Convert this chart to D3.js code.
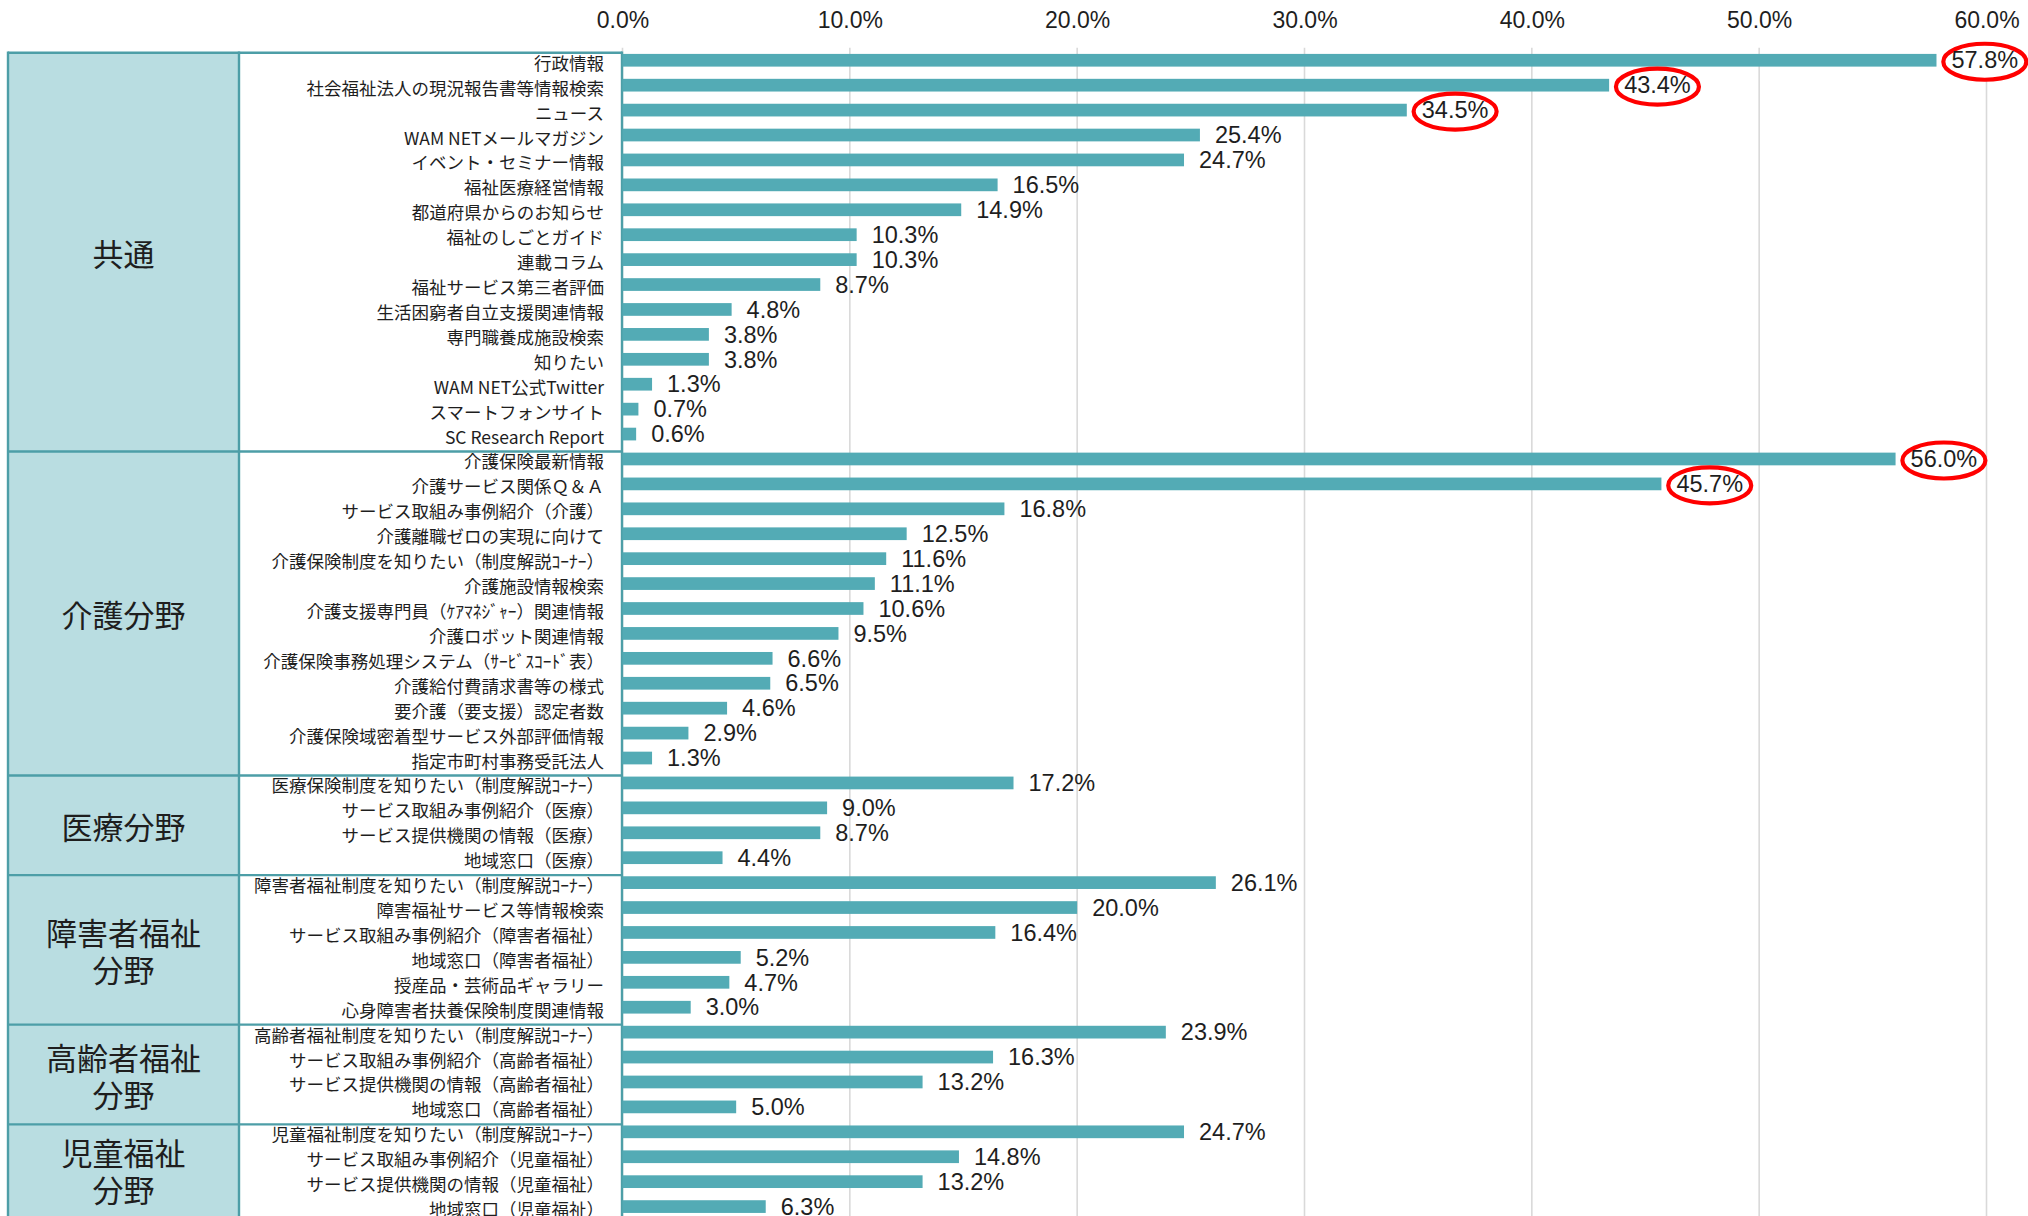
<!DOCTYPE html>
<html>
<head>
<meta charset="utf-8">
<script src="https://cdn.jsdelivr.net/npm/d3@7"></script>
<style>
  html, body { margin: 0; padding: 0; background: #ffffff; }
  svg { display: block; }
</style>
</head>
<body>
<svg id="chart" width="2028" height="1216"></svg>
<script>
// ---------- DATA ----------
const groupNames = ["共通", "介護分野", "医療分野", "障害者福祉\n分野", "高齢者福祉\n分野", "児童福祉\n分野"];
const groupSizes = [16, 13, 4, 6, 4, 4];

const categories = [
  // 共通
  "行政情報", "社会福祉法人の現況報告書等情報検索", "ニュース", "WAM NETメールマガジン",
  "イベント・セミナー情報", "福祉医療経営情報", "都道府県からのお知らせ", "福祉のしごとガイド",
  "連載コラム", "福祉サービス第三者評価", "生活困窮者自立支援関連情報", "専門職養成施設検索",
  "知りたい", "WAM NET公式Twitter", "スマートフォンサイト", "SC Research Report",
  // 介護分野
  "介護保険最新情報", "介護サービス関係Ｑ＆Ａ", "サービス取組み事例紹介（介護）", "介護離職ゼロの実現に向けて",
  "介護保険制度を知りたい（制度解説ｺｰﾅｰ）", "介護施設情報検索", "介護支援専門員（ｹｱﾏﾈｼﾞｬｰ）関連情報",
  "介護ロボット関連情報", "介護保険事務処理システム（ｻｰﾋﾞｽｺｰﾄﾞ表）", "介護給付費請求書等の様式",
  "要介護（要支援）認定者数", "介護保険域密着型サービス外部評価情報", "指定市町村事務受託法人",
  // 医療分野
  "医療保険制度を知りたい（制度解説ｺｰﾅｰ）", "サービス取組み事例紹介（医療）", "サービス提供機関の情報（医療）", "地域窓口（医療）",
  // 障害者福祉分野
  "障害者福祉制度を知りたい（制度解説ｺｰﾅｰ）", "障害福祉サービス等情報検索", "サービス取組み事例紹介（障害者福祉）",
  "地域窓口（障害者福祉）", "授産品・芸術品ギャラリー", "心身障害者扶養保険制度関連情報",
  // 高齢者福祉分野
  "高齢者福祉制度を知りたい（制度解説ｺｰﾅｰ）", "サービス取組み事例紹介（高齢者福祉）", "サービス提供機関の情報（高齢者福祉）", "地域窓口（高齢者福祉）",
  // 児童福祉分野
  "児童福祉制度を知りたい（制度解説ｺｰﾅｰ）", "サービス取組み事例紹介（児童福祉）", "サービス提供機関の情報（児童福祉）", "地域窓口（児童福祉）"
];

const values = [
  57.8, 43.4, 34.5, 25.4, 24.7, 16.5, 14.9, 10.3, 10.3, 8.7, 4.8, 3.8, 3.8, 1.3, 0.7, 0.6,
  56.0, 45.7, 16.8, 12.5, 11.6, 11.1, 10.6, 9.5, 6.6, 6.5, 4.6, 2.9, 1.3,
  17.2, 9.0, 8.7, 4.4,
  26.1, 20.0, 16.4, 5.2, 4.7, 3.0,
  23.9, 16.3, 13.2, 5.0,
  24.7, 14.8, 13.2, 6.3
];

const highlighted = ["行政情報", "社会福祉法人の現況報告書等情報検索", "ニュース", "介護保険最新情報", "介護サービス関係Ｑ＆Ａ"];

const xTicks = [0, 10, 20, 30, 40, 50, 60];

// ---------- LAYOUT ----------
const W = 2028, H = 1216;
const tableLeft = 8, catRight = 239, labelRight = 622;
const rowTop = 47.8, rowStep = 24.92;

const svg = d3.select("#chart");

const x = d3.scaleLinear().domain([0, 60]).range([622.5, 1986.5]);
const y = d3.scaleBand()
  .domain(d3.range(categories.length))
  .range([rowTop, rowTop + rowStep * categories.length])
  .paddingInner(0.49)
  .paddingOuter(0.245);
const bw = y.bandwidth();
const step = y.step();
const rowCenter = i => y(i) + bw / 2;

const barColor = "#53abb5";
const borderColor = "#4d9ea7";
const catFill = "#b9dde1";
const textColor = "#1e1e1e";

// gridlines
svg.append("g").selectAll("line")
  .data(xTicks)
  .join("line")
  .attr("x1", d => x(d)).attr("x2", d => x(d))
  .attr("y1", rowTop).attr("y2", H)
  .attr("stroke", "#d9d9d9")
  .attr("stroke-width", 1.6);

// axis tick labels
const axis = d3.axisTop(x).tickValues(xTicks).tickFormat(d => d.toFixed(1) + "%").tickSize(0).tickPadding(3);
const axisG = svg.append("g").attr("transform", "translate(0,31)").call(axis);
axisG.select(".domain").remove();
axisG.selectAll("text")
  .attr("font-family", "'Liberation Sans', Arial, sans-serif")
  .attr("font-size", 23)
  .attr("fill", textColor);

// ---------- TABLE ----------
const groups = [];
let start = 0;
groupSizes.forEach((n, gi) => {
  groups.push({ name: groupNames[gi], start, end: start + n });
  start += n;
});
const borderY = i => i >= categories.length ? H : rowCenter(i) - step * 0.3;

const table = svg.append("g");
// label column background (white)
table.append("rect")
  .attr("x", catRight).attr("y", borderY(0))
  .attr("width", labelRight - catRight).attr("height", H - borderY(0))
  .attr("fill", "#ffffff");
// category cells
table.selectAll("rect.cat")
  .data(groups)
  .join("rect")
  .attr("class", "cat")
  .attr("x", tableLeft).attr("y", d => borderY(d.start))
  .attr("width", catRight - tableLeft)
  .attr("height", d => borderY(d.end) - borderY(d.start))
  .attr("fill", catFill);
// horizontal borders
table.selectAll("line.hb")
  .data(groups)
  .join("line")
  .attr("class", "hb")
  .attr("x1", tableLeft).attr("x2", labelRight)
  .attr("y1", d => borderY(d.start)).attr("y2", d => borderY(d.start))
  .attr("stroke", borderColor).attr("stroke-width", 2.4);
// vertical borders
[tableLeft, catRight, labelRight].forEach(vx => {
  table.append("line")
    .attr("x1", vx).attr("x2", vx)
    .attr("y1", borderY(0) - 1.2).attr("y2", H)
    .attr("stroke", borderColor).attr("stroke-width", 2.4);
});

// category labels
table.selectAll("text.cat")
  .data(groups)
  .join("text")
  .attr("class", "cat")
  .attr("font-family", "'Noto Sans CJK JP', sans-serif")
  .attr("font-size", 31)
  .attr("fill", textColor)
  .attr("text-anchor", "middle")
  .each(function(d) {
    const lines = d.name.split("\n");
    const cy = (borderY(d.start) + borderY(d.end)) / 2;
    const lh = 37;
    const t = d3.select(this);
    lines.forEach((ln, li) => {
      t.append("tspan")
        .attr("x", (tableLeft + catRight) / 2)
        .attr("y", cy + (li - (lines.length - 1) / 2) * lh)
        .attr("dominant-baseline", "central")
        .text(ln);
    });
  });

// row labels
svg.append("g").selectAll("text")
  .data(categories)
  .join("text")
  .attr("x", 604)
  .attr("y", (d, i) => rowCenter(i) + 2)
  .attr("dominant-baseline", "central")
  .attr("text-anchor", "end")
  .attr("font-family", "'Noto Sans CJK JP', sans-serif")
  .attr("font-size", 17.5)
  .attr("fill", textColor)
  .text(d => d);

// ---------- BARS ----------
svg.append("g").selectAll("rect")
  .data(values)
  .join("rect")
  .attr("x", x(0))
  .attr("y", (d, i) => y(i))
  .attr("width", d => x(d) - x(0))
  .attr("height", bw)
  .attr("fill", barColor);

// value labels
const labelsG = svg.append("g");
const ellG = labelsG.append("g");
const valText = labelsG.selectAll("text")
  .data(values)
  .join("text")
  .attr("x", d => x(d) + 15)
  .attr("y", (d, i) => rowCenter(i))
  .attr("dy", "0.35em")
  .attr("font-family", "'Liberation Sans', Arial, sans-serif")
  .attr("font-size", 23.5)
  .attr("fill", textColor)
  .text(d => d.toFixed(1) + "%");

// red ellipses around highlighted values
valText.each(function(d, i) {
  if (!highlighted.includes(categories[i])) return;
  const len = this.getComputedTextLength();
  ellG.append("ellipse")
    .attr("cx", x(d) + 15 + len / 2)
    .attr("cy", rowCenter(i) + 1.5)
    .attr("rx", 41.5)
    .attr("ry", 18)
    .attr("fill", "#ffffff")
    .attr("stroke", "#ff0000")
    .attr("stroke-width", 4.2);
});
</script>
</body>
</html>
